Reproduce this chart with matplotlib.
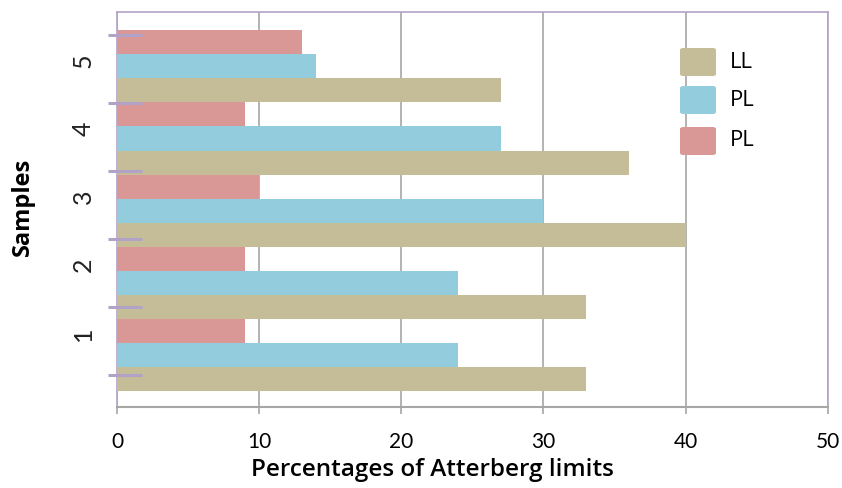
import matplotlib
matplotlib.use("Agg")
import matplotlib.pyplot as plt
import matplotlib.transforms as mtransforms
from matplotlib.patches import FancyBboxPatch
import numpy as np

samples = ["1", "2", "3", "4", "5"]
ll_values = [33, 33, 40, 36, 27]
pl_values = [24, 24, 30, 27, 14]
pl2_values = [9, 9, 10, 9, 13]
series_names = ["LL", "PL", "PL"]
series_colors = ["#C4BD97", "#93CDDD", "#D99795"]
x_ticks = [0, 10, 20, 30, 40, 50]

plt.rcParams["font.family"] = ["Lato", "DejaVu Sans"]

fig = plt.figure(figsize=(8.42, 4.88), dpi=100)
ax = fig.add_axes([0.139, 0.166, 0.844, 0.809])
fig_w, fig_h = fig.get_size_inches() * fig.dpi

series = [ll_values, pl_values, pl2_values]
n = len(samples)
for j, (vals, col) in enumerate(zip(series, series_colors)):
    pos = np.arange(n) * 3 + j
    ax.barh(pos, vals, height=1.0, color=col, zorder=3, label=series_names[j])

ax.set_xlim(0, 50)
ax.set_ylim(-1.16, 15.25)
ax.set_xticks(x_ticks)
ax.set_xticklabels([str(t) for t in x_ticks], fontsize=15)
ax.xaxis.grid(True, color="#A6A6A6", linewidth=1.2, zorder=0)
ax.tick_params(axis="x", direction="out", length=5, width=1.2, color="#A6A6A6", pad=13)

# category labels sit between the lavender separator marks
label_pos = 1.9 + 2.835 * np.arange(n)
ax.set_yticks(label_pos)
ax.set_yticklabels(samples, rotation=90, va="center", fontsize=18, color="#222222")
ax.tick_params(axis="y", length=0, pad=16)

sep_pos = 0.17 + 2.83 * np.arange(n + 1)
trans = mtransforms.blended_transform_factory(ax.transAxes, ax.transData)
for y in sep_pos:
    ax.plot([-0.013, 0.035], [y, y], color="#B3A2C7", linewidth=2.2,
            transform=trans, clip_on=False, zorder=5, solid_capstyle="butt")

for side in ["left", "top", "right"]:
    ax.spines[side].set_color("#B3A2C7")
    ax.spines[side].set_linewidth(1.2)
ax.spines["bottom"].set_color("#A6A6A6")
ax.spines["bottom"].set_linewidth(1.5)

# axis titles
fig.text(432 / fig_w, 1 - 470 / fig_h, "Percentages of Atterberg limits",
         fontsize=17.5, fontweight="semibold", ha="center", va="center",
         family=["Open Sans", "DejaVu Sans"])
fig.text(23 / fig_w, 1 - 207 / fig_h, "Samples", fontsize=17, fontweight="bold",
         rotation=90, ha="center", va="center", family=["Open Sans", "DejaVu Sans"])

# legend drawn as rounded swatches without a frame
legend_rows = [62, 100, 141]
for name, col, yc in zip(series_names, series_colors, legend_rows):
    x0, w, h = 680, 36, 28
    patch = FancyBboxPatch((x0 / fig_w, 1 - (yc + h / 2) / fig_h), w / fig_w, h / fig_h,
                           boxstyle="round,pad=0,rounding_size=0.004",
                           transform=fig.transFigure, facecolor=col, edgecolor="none",
                           zorder=10)
    fig.patches.append(patch)
    fig.text(730 / fig_w, 1 - yc / fig_h, name, fontsize=16, va="center", ha="left",
             family=["Open Sans", "DejaVu Sans"])

fig.savefig("out.png", dpi=100)
